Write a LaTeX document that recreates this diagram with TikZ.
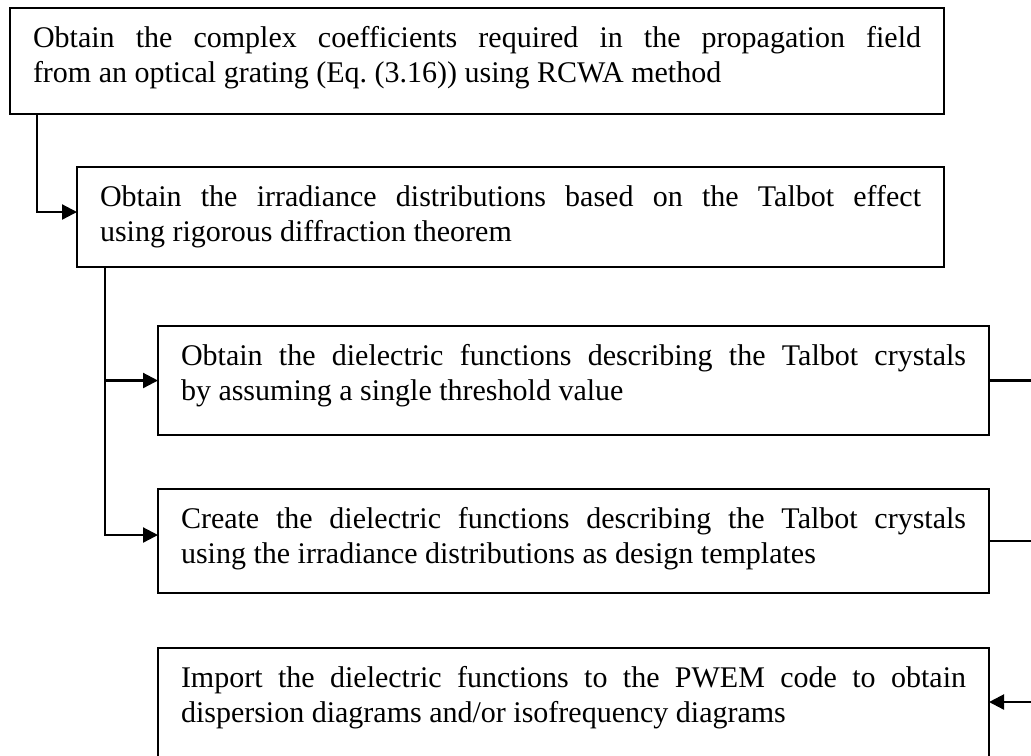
\documentclass[tikz,border=0pt]{standalone}
\usepackage{fontspec}
\setmainfont{Liberation Serif}
\usetikzlibrary{arrows.meta}

\begin{document}
\begin{tikzpicture}[x=0.4pt, y=-0.4pt, line width=0.9pt,
    box/.style={draw, rectangle, anchor=north west, align=justify, outer sep=0pt,
      inner xsep=9.2pt, inner ysep=0pt, font=\fontsize{12}{14}\selectfont},
    arr/.style={-{Triangle[length=6pt,width=6pt]}}]
    \useasboundingbox (0,0) rectangle (1031,755);

    \node[box, text width=355.2pt] (s1) at (10,8) {\rule{0pt}{15.6pt}Obtain the complex coefficients required in the propagation field\linebreak from an optical grating (Eq.~(3.16)) using RCWA method\rule[-12.8pt]{0pt}{12.8pt}};
    \node[box, text width=328.4pt] (s2) at (77,167) {\rule{0pt}{15.6pt}Obtain the irradiance distributions based on the Talbot effect\linebreak using rigorous diffraction theorem\rule[-10.4pt]{0pt}{10.4pt}};
    \node[box, text width=314pt] (s3) at (158,326) {\rule{0pt}{15.6pt}Obtain the dielectric functions describing the Talbot crystals\linebreak by assuming a single threshold value\rule[-14pt]{0pt}{14pt}};
    \node[box, text width=314pt] (s4) at (158,489) {\rule{0pt}{15.6pt}Create the dielectric functions describing the Talbot crystals\linebreak using the irradiance distributions as design templates\rule[-12pt]{0pt}{12pt}};
    \node[box, text width=314pt] (s5) at (158,648) {\rule{0pt}{15.6pt}Import the dielectric functions to the PWEM code to obtain\linebreak dispersion diagrams and/or isofrequency diagrams\rule[-14.8pt]{0pt}{14.8pt}};
    \coordinate (rt) at (1037,0);

    \draw[arr] ([xshift=10.8pt]s1.south west) |- ([yshift=2pt]s2.west);
    \draw[arr] ([xshift=11.2pt]s2.south west) |- (s3.west);
    \draw[arr] ([xshift=11.2pt]s2.south west) |- ([yshift=2.4pt]s4.west);
    \draw[arr] (s3.east) -- (s3.east -| rt) |- ([yshift=0.6pt]s5.east);
    \draw (s4.east) -- (s4.east -| rt);
  \end{tikzpicture}
\end{document}
